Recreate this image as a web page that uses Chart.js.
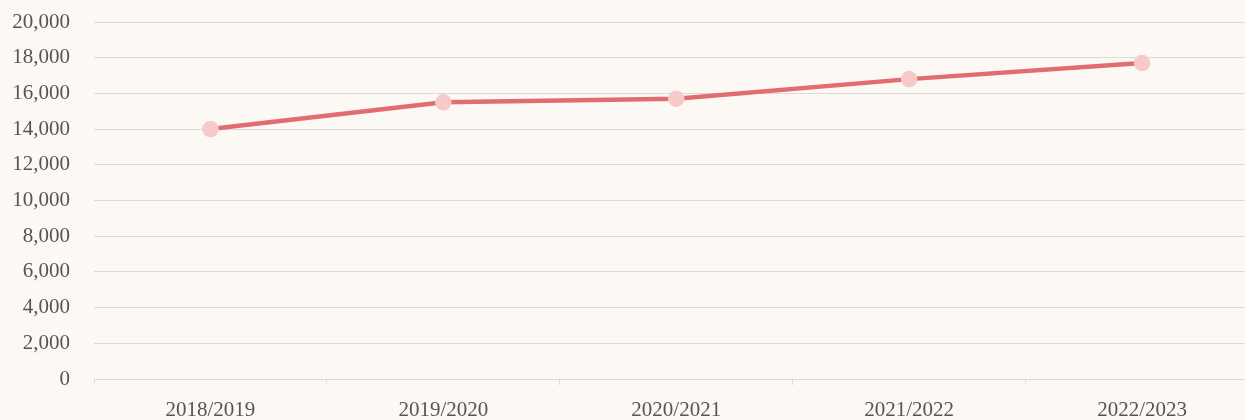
<!DOCTYPE html>
<html>
<head>
<meta charset="utf-8">
<script src="https://cdn.jsdelivr.net/npm/chart.js@4"></script>
<style>
  html, body { margin: 0; padding: 0; background: #fcf9f5; overflow: hidden; }
  #wrap { width: 1245px; height: 420px; overflow: hidden; }
  canvas { display: block; }
</style>
</head>
<body>
<!-- plot area runs a little past the right edge in the original, so the canvas is wider than the view -->
<div id="wrap"><canvas id="chart" width="1269" height="420"></canvas></div>
<script>
// data
const seasons = ['2018/2019', '2019/2020', '2020/2021', '2021/2022', '2022/2023'];
const values = [14000, 15500, 15700, 16800, 17700];

const gridColor = '#dedad6';
const textColor = '#555';

const ctx = document.getElementById('chart').getContext('2d');
new Chart(ctx, {
  type: 'line',
  data: {
    labels: seasons,
    datasets: [{
      data: values,
      borderColor: '#e26d70',
      borderWidth: 4.5,
      pointBackgroundColor: '#f6c9cb',
      pointBorderColor: '#f6c9cb',
      pointRadius: 6,
      tension: 0,
      fill: false
    }]
  },
  options: {
    responsive: false,
    animation: false,
    devicePixelRatio: 1,
    layout: { padding: 0 },
    plugins: {
      legend: { display: false },
      tooltip: { enabled: false }
    },
    scales: {
      x: {
        offset: true,
        afterFit: s => { s.height = 41; s.paddingLeft = 0; s.paddingRight = 0; },
        grid: { offset: true, drawOnChartArea: false, color: gridColor, tickLength: 6 },
        border: { color: gridColor },
        ticks: {
          color: textColor,
          font: { family: 'Liberation Serif', size: 21 },
          padding: 13
        }
      },
      y: {
        min: 0,
        max: 20000,
        afterFit: s => { s.width = 94; s.paddingTop = 22; s.paddingBottom = 0; },
        grid: { color: gridColor, drawTicks: false },
        border: { display: false },
        ticks: {
          stepSize: 2000,
          color: textColor,
          font: { family: 'Liberation Serif', size: 21 },
          padding: 24,
          callback: v => v.toLocaleString('en-US')
        }
      }
    }
  }
});
</script>
</body>
</html>
